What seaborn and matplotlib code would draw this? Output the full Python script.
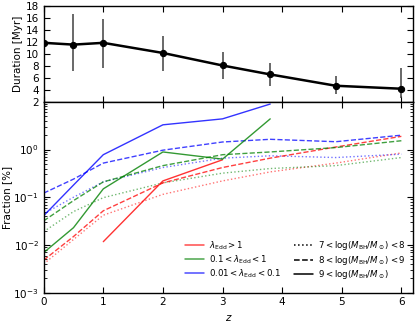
import numpy as np
import pandas as pd
import seaborn as sns
import matplotlib.pyplot as plt
from matplotlib.lines import Line2D

sns.set_style("ticks")
plt.rcParams.update({
    "xtick.direction": "in",
    "ytick.direction": "in",
    "xtick.top": True,
    "ytick.right": True,
    "axes.edgecolor": "black",
    "axes.linewidth": 1.0,
    "xtick.color": "black",
    "ytick.color": "black",
    "text.color": "black",
    "axes.labelcolor": "black",
    "font.size": 7.5,
    "xtick.labelsize": 7.5,
    "ytick.labelsize": 7.5,
    "axes.labelsize": 7.5,
})

# top panel: duration vs redshift
z_dur = [0, 0.5, 1, 2, 3, 3.8, 4.9, 6]
dur = [11.9, 11.6, 11.9, 10.2, 8.1, 6.6, 4.7, 4.2]
dur_hi = [11.9, 16.7, 15.9, 13.1, 10.4, 8.5, 6.3, 7.6]
dur_lo = [11.9, 7.2, 7.7, 7.2, 5.8, 4.7, 3.4, 2.7]

# bottom panel: fraction [%] vs redshift
z = [0, 0.5, 1, 2, 3, 3.8, 4.9, 6]
nan = np.nan
# lambda_Edd > 1
red_m78 = [0.0040, 0.013, 0.042, 0.115, 0.22, 0.34, 0.52, 0.85]
red_m89 = [0.0048, 0.015, 0.052, 0.20, 0.42, 0.66, 1.13, 1.89]
red_m9 = [nan, nan, 0.0117, 0.22, 0.61, nan, nan, nan]
# 0.1 < lambda_Edd < 1
green_m78 = [0.019, 0.05, 0.098, 0.20, 0.32, 0.40, 0.46, 0.68]
green_m89 = [0.032, 0.085, 0.21, 0.46, 0.78, 0.89, 1.1, 1.53]
green_m9 = [0.0069, 0.023, 0.15, 0.89, 0.63, 4.4, nan, nan]
# 0.01 < lambda_Edd < 0.1
blue_m78 = [0.045, 0.10, 0.21, 0.42, 0.66, 0.74, 0.68, 0.80]
blue_m89 = [0.122, 0.24, 0.52, 0.97, 1.44, 1.64, 1.46, 2.0]
blue_m9 = [0.041, 0.18, 0.78, 3.3, 4.4, 9.0, nan, nan]

edd_labels = [r"$\lambda_{\rm Edd}>1$",
              r"$0.1<\lambda_{\rm Edd}<1$",
              r"$0.01<\lambda_{\rm Edd}<0.1$"]
mass_labels = [r"$7<\log(M_{\rm BH}/M_\odot)<8$",
               r"$8<\log(M_{\rm BH}/M_\odot)<9$",
               r"$9<\log(M_{\rm BH}/M_\odot)$"]

series = {
    ("red", "m78"): red_m78, ("red", "m89"): red_m89, ("red", "m9"): red_m9,
    ("green", "m78"): green_m78, ("green", "m89"): green_m89, ("green", "m9"): green_m9,
    ("blue", "m78"): blue_m78, ("blue", "m89"): blue_m89, ("blue", "m9"): blue_m9,
}
rows = []
for (edd, mass), vals in series.items():
    for zz, v in zip(z, vals):
        rows.append({"z": zz, "frac": v, "edd": edd, "mass": mass})
df = pd.DataFrame(rows).dropna()

palette = {"red": "#ff0000", "green": "#008000", "blue": "#0000ff"}
styles = {"m78": (":", 0.55), "m89": ("--", 0.75), "m9": ("-", 0.8)}

fig = plt.figure(figsize=(4.16, 3.23), dpi=100)
gs = fig.add_gridspec(2, 1, height_ratios=[1, 2], hspace=0,
                      left=0.105, right=0.9935, top=0.980, bottom=0.094)
ax1 = fig.add_subplot(gs[0])
ax2 = fig.add_subplot(gs[1], sharex=ax1)

# duration
ax1.errorbar(z_dur, dur,
             yerr=[np.array(dur) - np.array(dur_lo), np.array(dur_hi) - np.array(dur)],
             fmt="none", ecolor="0.25", elinewidth=1.1, capsize=0)
sns.lineplot(x=z_dur, y=dur, color="black", lw=1.8, marker="o", markersize=4.5,
             markeredgecolor="black", ax=ax1, errorbar=None)
ax1.set_ylim(2, 18)
ax1.set_yticks(range(2, 19, 2))
ax1.set_ylabel("Duration [Myr]", labelpad=2)
ax1.tick_params(labelbottom=False)

# fractions
for mass, (ls, a) in styles.items():
    sub = df[df["mass"] == mass]
    sns.lineplot(data=sub, x="z", y="frac", hue="edd", palette=palette,
                 hue_order=["red", "green", "blue"], estimator=None, errorbar=None,
                 linestyle=ls, lw=1.0, alpha=a, legend=False, ax=ax2)
ax2.set_yscale("log")
ax2.set_ylim(1e-3, 10)
ax2.set_yticks([1e-3, 1e-2, 1e-1, 1e0])
ax2.set_xlim(0, 6.2)
ax2.set_xticks(range(0, 7))
ax2.set_xlabel("$z$")
ax2.set_ylabel("Fraction [%]", labelpad=1)

for ax in (ax1, ax2):
    ax.tick_params(which="major", length=4, width=0.8)
    ax.tick_params(which="minor", length=2, width=0.6)

handles = [Line2D([], [], color=palette[c], lw=1.1, alpha=0.7) for c in ["red", "green", "blue"]]
handles += [Line2D([], [], color="black", ls=styles[m][0], lw=1.1) for m in ["m78", "m89", "m9"]]
ax2.legend(handles, edd_labels + mass_labels, ncol=2, frameon=False,
           loc="lower right", bbox_to_anchor=(1.0, 0.02), fontsize=6.2,
           handlelength=2.2, handletextpad=0.5, columnspacing=1.6,
           labelspacing=0.15)

fig.savefig("out.png", dpi=100)
